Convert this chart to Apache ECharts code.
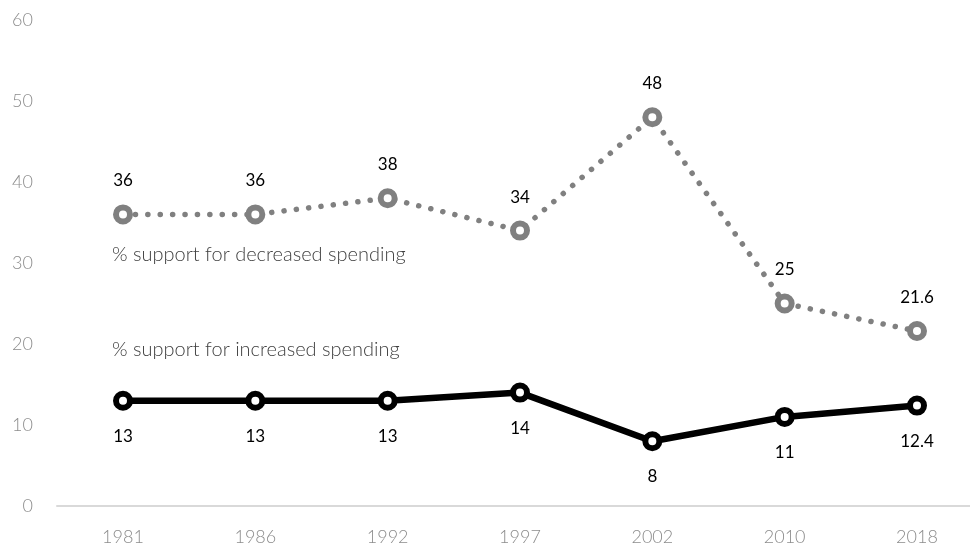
<!DOCTYPE html>
<html><head><meta charset="utf-8">
<script src="https://cdn.jsdelivr.net/npm/echarts@6/dist/echarts.min.js"></script>
<style>html,body{margin:0;padding:0;background:#fff}#c{width:970px;height:547px}</style>
</head><body><div id="c"></div>
<script>
const years = ['1981','1986','1992','1997','2002','2010','2018'];
const decreased = [36, 36, 38, 34, 48, 25, 21.6];
const increased = [13, 13, 13, 14, 8, 11, 12.4];
const yTicks = [0, 10, 20, 30, 40, 50, 60];
const labelDecreased = '% support for decreased spending';
const labelIncreased = '% support for increased spending';

const FONT = 'Lato, "Noto Sans", sans-serif';
const yMin = yTicks[0], yMax = yTicks[yTicks.length - 1];
const chart = echarts.init(document.getElementById('c'));
chart.setOption({
  animation: false,
  grid: [
    { left: 57, right: 0, top: 20, height: 486, containLabel: false },
    { left: 123, right: 53, top: 20, height: 486, containLabel: false }
  ],
  xAxis: [
    {
      gridIndex: 0, type: 'value', min: 0, max: 1,
      axisLine: { show: true, onZero: false, lineStyle: { color: '#d9d9d9', width: 2 } },
      axisTick: { show: false }, axisLabel: { show: false }, splitLine: { show: false }
    },
    {
      gridIndex: 1, type: 'category', data: years, boundaryGap: false,
      axisLine: { show: false },
      axisTick: { show: false },
      axisLabel: { color: '#8c8c8c', fontSize: 18, fontFamily: FONT, fontWeight: 300, margin: 22 }
    }
  ],
  yAxis: [
    {
      gridIndex: 0, type: 'value', min: yMin, max: yMax, interval: 10,
      axisLine: { show: false }, axisTick: { show: false }, splitLine: { show: false },
      axisLabel: { color: '#8c8c8c', fontSize: 18, fontFamily: FONT, fontWeight: 300, margin: 24 }
    },
    {
      gridIndex: 1, type: 'value', min: yMin, max: yMax, interval: 10,
      axisLine: { show: false }, axisTick: { show: false }, splitLine: { show: false },
      axisLabel: { show: false }
    }
  ],
  graphic: [
    { type: 'text', left: 112, top: 245, style: { text: labelDecreased, fill: '#404040', font: '300 20px ' + FONT } },
    { type: 'text', left: 112, top: 340, style: { text: labelIncreased, fill: '#404040', font: '300 20px ' + FONT } }
  ],
  series: [
    {
      type: 'line', data: decreased, xAxisIndex: 1, yAxisIndex: 1,
      symbol: 'circle', symbolSize: 14,
      lineStyle: { color: '#808080', width: 5.5, type: [0.1, 12.3], cap: 'round' },
      itemStyle: { color: '#fff', borderColor: '#808080', borderWidth: 6 },
      label: { show: true, position: 'top', distance: 15, color: '#000', fontSize: 17, fontFamily: FONT },
      z: 2
    },
    {
      type: 'line', data: increased, xAxisIndex: 1, yAxisIndex: 1,
      symbol: 'circle', symbolSize: 14,
      lineStyle: { color: '#000', width: 6.5 },
      itemStyle: { color: '#fff', borderColor: '#000', borderWidth: 6 },
      label: { show: true, position: 'bottom', distance: 17, color: '#000', fontSize: 17, fontFamily: FONT },
      z: 3
    }
  ]
});
</script></body></html>
